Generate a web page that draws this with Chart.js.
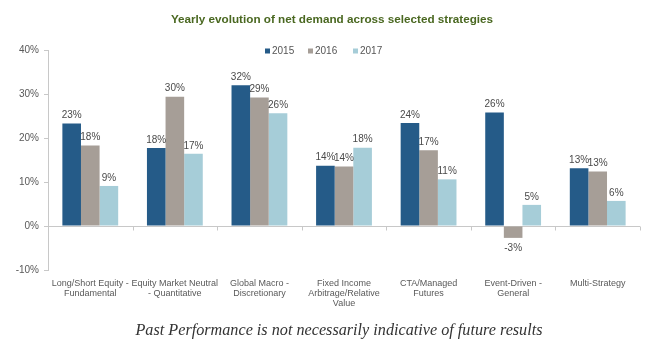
<!DOCTYPE html>
<html>
<head>
<meta charset="utf-8">
<script src="https://cdn.jsdelivr.net/npm/chart.js@4/dist/chart.umd.min.js"></script>
<style>
  html, body { margin: 0; padding: 0; background: #fff; }
  #wrap { position: relative; width: 664px; height: 362px; overflow: hidden; }
  #c { position: absolute; left: 0; top: 0; }
  #title { position: absolute; left: 0; width: 664px; top: 12px; text-align: center;
    font: bold 11.7px "Liberation Sans", Arial, sans-serif; color: #4a6821; }
  #title span { position: relative; left: 0px; }
  #foot { position: absolute; left: 0; width: 664px; top: 321px; text-align: center;
    font: italic 16.2px "Liberation Serif", "DejaVu Serif", serif; color: #333; }
  #foot span { position: relative; left: 7px; }
</style>
</head>
<body>
<div id="wrap">
  <canvas id="c" width="664" height="362"></canvas>
  <div id="title"><span>Yearly evolution of net demand across selected strategies</span></div>
  <div id="foot"><span>Past Performance is not necessarily indicative of future results</span></div>
</div>
<script>
const categories = [
  ["Long/Short Equity -", "Fundamental"],
  ["Equity Market Neutral", "- Quantitative"],
  ["Global Macro -", "Discretionary"],
  ["Fixed Income", "Arbitrage/Relative", "Value"],
  ["CTA/Managed", "Futures"],
  ["Event-Driven -", "General"],
  ["Multi-Strategy"]
];
const seriesNames = ["2015", "2016", "2017"];
const values2015 = [23.3, 17.7, 32.0, 13.7, 23.4, 25.8, 13.1];
const values2016 = [18.3, 29.4, 29.2, 13.5, 17.2, -2.7, 12.4];
const values2017 = [9.1, 16.4, 25.6, 17.8, 10.6, 4.8, 5.7];
const labels2015 = ["23%", "18%", "32%", "14%", "24%", "26%", "13%"];
const labels2016 = ["18%", "30%", "29%", "14%", "17%", "-3%", "13%"];
const labels2017 = ["9%", "17%", "26%", "18%", "11%", "5%", "6%"];
const yTicks = [-10, 0, 10, 20, 30, 40];
const colors = ["#255b88", "#a69e97", "#a6cdd8"];

const dataLabels = [labels2015, labels2016, labels2017];

const barLabelPlugin = {
  id: 'barLabels',
  afterDatasetsDraw(chart) {
    const ctx = chart.ctx;
    ctx.save();
    ctx.font = '10px "Liberation Sans", Arial, sans-serif';
    ctx.fillStyle = '#4a4a4a';
    ctx.textAlign = 'center';
    chart.data.datasets.forEach((ds, di) => {
      const meta = chart.getDatasetMeta(di);
      meta.data.forEach((bar, i) => {
        const v = ds.data[i];
        if (v >= 0) {
          ctx.textBaseline = 'bottom';
          ctx.fillText(dataLabels[di][i], bar.x, bar.y - 3);
        } else {
          ctx.textBaseline = 'top';
          ctx.fillText(dataLabels[di][i], bar.x, bar.y + 5);
        }
      });
    });
    ctx.restore();
  }
};

const axisPlugin = {
  id: 'zeroAxis',
  beforeDatasetsDraw(chart) {
    const ctx = chart.ctx;
    const x = chart.scales.x, y = chart.scales.y;
    const y0 = Math.round(y.getPixelForValue(0)) + 0.5;
    ctx.save();
    ctx.strokeStyle = '#c8c8c8';
    ctx.lineWidth = 1;
    ctx.beginPath();
    ctx.moveTo(chart.chartArea.left, y0);
    ctx.lineTo(chart.chartArea.right, y0);
    const n = chart.data.labels.length;
    for (let i = 0; i <= n; i++) {
      let px;
      if (i === 0) px = chart.chartArea.left;
      else if (i === n) px = chart.chartArea.right;
      else px = (x.getPixelForTick(i - 1) + x.getPixelForTick(i)) / 2;
      px = Math.round(px) + 0.5;
      ctx.moveTo(px, y0);
      ctx.lineTo(px, y0 + 4);
    }
    ctx.stroke();
    ctx.restore();
  }
};

const legendPlugin = {
  id: 'customLegend',
  afterDraw(chart) {
    const ctx = chart.ctx;
    ctx.save();
    ctx.font = '10px "Liberation Sans", Arial, sans-serif';
    ctx.textBaseline = 'middle';
    ctx.textAlign = 'left';
    const startXs = [265, 308, 353];
    const yc = 51;
    chart.data.datasets.forEach((ds, i) => {
      const sx = startXs[i];
      ctx.fillStyle = ds.backgroundColor;
      ctx.fillRect(sx, yc - 2.5, 5, 5);
      ctx.fillStyle = '#555';
      ctx.fillText(ds.label, sx + 7, yc);
    });
    ctx.restore();
  }
};

new Chart(document.getElementById('c'), {
  type: 'bar',
  data: {
    labels: categories,
    datasets: [
      { label: seriesNames[0], data: values2015, backgroundColor: colors[0] },
      { label: seriesNames[1], data: values2016, backgroundColor: colors[1] },
      { label: seriesNames[2], data: values2017, backgroundColor: colors[2] }
    ]
  },
  options: {
    responsive: false,
    animation: false,
    devicePixelRatio: 1,
    categoryPercentage: 0.66,
    barPercentage: 1.0,
    layout: { padding: { top: 50, right: 24, left: 0, bottom: 0 } },
    plugins: {
      legend: { display: false },
      title: { display: false },
      tooltip: { enabled: false }
    },
    scales: {
      x: {
        grid: { display: false, drawTicks: false },
        border: { display: false },
        ticks: {
          color: '#595959',
          font: { family: '"Liberation Sans", Arial, sans-serif', size: 9, lineHeight: 1.15 },
          padding: 8,
          maxRotation: 0,
          autoSkip: false
        },
        afterFit(scale) { scale.height = 92; }
      },
      y: {
        min: -10,
        max: 40,
        afterBuildTicks(scale) { scale.ticks = yTicks.map(v => ({ value: v })); },
        grid: { drawOnChartArea: false, drawTicks: true, tickLength: 4, color: '#c8c8c8' },
        border: { display: true, color: '#c8c8c8' },
        ticks: {
          color: '#595959',
          font: { family: '"Liberation Sans", Arial, sans-serif', size: 10 },
          padding: 5,
          callback: v => v + '%'
        },
        afterFit(scale) { scale.width = 48; }
      }
    }
  },
  plugins: [axisPlugin, barLabelPlugin, legendPlugin]
});
</script>
</body>
</html>
